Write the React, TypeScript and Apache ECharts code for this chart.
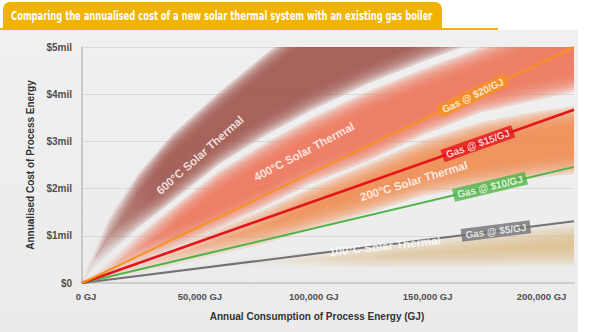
import React, { useEffect, useRef } from "react";
import * as echarts from "echarts";

const titleText =
  "Comparing the annualised cost of a new solar thermal system with an existing gas boiler";

// axes
const xTickLabels = ["0 GJ", "50,000 GJ", "100,000 GJ", "150,000 GJ", "200,000 GJ"];
const yTickLabels = ["$0", "$1mil", "$2mil", "$3mil", "$4mil", "$5mil"];
const xMax = 216000;
const xInterval = 50000;

// gas lines: [GJ, $mil] end points
const gasNames = ["Gas @ $5/GJ", "Gas @ $10/GJ", "Gas @ $15/GJ", "Gas @ $20/GJ"];
const gasEndValues = [1.31, 2.46, 3.67, 5.0];
const gasColors = ["#727276", "#4fb447", "#e5141b", "#f6931f"];
const gasWidths = [2, 2, 2.6, 2];
const gasLabelX = [181700, 179100, 173800, 171600];
const gasLabelY = [1.1, 2.04, 2.95, 3.97];
const gasLabelRotate = [7.2, 13.3, 19.4, 25.6];

// solar thermal bands (upper / lower edges, $mil) at bandXs (GJ)
const bandXs = [0, 5000, 12000, 25000, 40000, 60000, 80000, 100000, 125000, 150000, 175000, 200000, 216000];
const solar600Upper = [0, 0.55, 1.3, 2.25, 3.08, 3.95, 4.75, 5.5, 6.0, 6.3, 6.6, 6.9, 7.2];
const solar600Lower = [0, 0.38, 0.71, 1.26, 1.83, 2.59, 3.19, 3.72, 4.29, 4.78, 5.22, 5.69, 6.05];
const solar400Upper = [0, 0.1, 0.39, 0.95, 1.52, 2.28, 2.87, 3.4, 3.97, 4.46, 4.91, 5.37, 5.73];
const solar400Lower = [0, 0.08, 0.23, 0.51, 0.83, 1.25, 1.69, 2.18, 2.65, 3.22, 3.69, 3.96, 4.13];
const solar200Upper = [0, 0.08, 0.21, 0.44, 0.72, 1.1, 1.48, 1.93, 2.44, 2.95, 3.33, 3.56, 3.67];
const solar200Lower = [0, 0.04, 0.13, 0.28, 0.45, 0.68, 0.91, 1.21, 1.55, 1.93, 2.14, 2.31, 2.39];
const tanXs = [60000, 80000, 100000, 125000, 150000, 175000, 200000, 216000];
const solar100Upper = [0.44, 0.51, 0.57, 0.7, 0.83, 0.97, 1.1, 1.19];
const solar100Lower = [0.44, 0.42, 0.42, 0.4, 0.42, 0.42, 0.44, 0.44];

const bandNames = ["600°C Solar Thermal", "400°C Solar Thermal", "200°C Solar Thermal", "100°C Solar Thermal"];
const bandLabelX = [51800, 97500, 145700, 133000];
const bandLabelY = [2.71, 2.78, 2.16, 0.78];
const bandLabelRotate = [41.5, 28, 17, 6];

const feathers = [0.08, 0.03, -0.02, -0.07, -0.12, -0.17, -0.22, -0.27, -0.32];

function bandSeries(
  name: string,
  xs: number[],
  upper: number[],
  lower: number[],
  rgb: string,
  alpha: number,
  fadeEnd: number
) {
  return {
    type: "custom",
    name,
    clip: true,
    silent: true,
    z: 1,
    data: feathers.map(() => [0, 0]),
    renderItem: (params: any, api: any) => {
      const d = feathers[params.dataIndex];
      const up: number[][] = [];
      const lo: number[][] = [];
      xs.forEach((x, j) => {
        let u = upper[j] + d;
        let l = lower[j] - d;
        if (u < l) {
          const m = (upper[j] + lower[j]) / 2;
          u = m;
          l = m;
        }
        up.push(api.coord([x, u]));
        lo.push(api.coord([x, l]));
      });
      return {
        type: "polygon",
        shape: { points: up.concat(lo.reverse()) },
        style: {
          fill: {
            type: "linear",
            x: 0,
            y: 0,
            x2: 1,
            y2: 0,
            colorStops: [
              { offset: 0, color: `rgba(${rgb},${alpha * 0.1})` },
              { offset: fadeEnd, color: `rgba(${rgb},${alpha})` },
              { offset: 1, color: `rgba(${rgb},${alpha})` },
            ],
          },
        },
      };
    },
  };
}

export default function App() {
  const ref = useRef<HTMLDivElement>(null);
  useEffect(() => {
    if (!ref.current) return;
    const chart = echarts.init(ref.current, undefined, { renderer: "svg" });
    const gasSeries = gasNames.map((n, i) => ({
      type: "line",
      name: n,
      data: [
        [0, 0],
        [xMax, gasEndValues[i]],
      ],
      showSymbol: false,
      silent: true,
      z: 3,
      lineStyle: { color: gasColors[i], width: gasWidths[i] },
    }));
    const labelFont = "'Liberation Sans', Arial, sans-serif";
    const labelSeries = {
      type: "scatter",
      z: 5,
      silent: true,
      symbolSize: 1,
      itemStyle: { color: "rgba(0,0,0,0)" },
      data: [
        ...gasNames.map((n, i) => ({
          value: [gasLabelX[i], gasLabelY[i]],
          label: {
            show: true,
            position: "inside",
            formatter: n,
            rotate: gasLabelRotate[i],
            color: "#fff",
            fontSize: 10,
            fontWeight: "bold",
            fontFamily: labelFont,
            backgroundColor: gasColors[i],
            padding: [2, 4, 1, 4],
          },
        })),
        ...bandNames.map((n, i) => ({
          value: [bandLabelX[i], bandLabelY[i]],
          label: {
            show: true,
            position: "inside",
            formatter: n,
            rotate: bandLabelRotate[i],
            color: "#fff",
            fontSize: 11.5,
            fontWeight: "bold",
            fontFamily: labelFont,
          },
        })),
      ],
    };
    chart.setOption({
      animation: false,
      backgroundColor: "#ffffff",
      graphic: [
        {
          type: "rect",
          z: -100,
          silent: true,
          shape: { x: 0, y: 30, width: 578, height: 302 },
          style: {
            fill: new echarts.graphic.LinearGradient(0, 0, 0, 1, [
              { offset: 0, color: "#f0f0f0" },
              { offset: 1, color: "#ebebeb" },
            ]),
          },
        },
        {
          type: "rect",
          z: -90,
          silent: true,
          shape: { x: 0, y: 28, width: 498, height: 2 },
          style: { fill: "#f0b400" },
        },
        {
          type: "rect",
          z: -80,
          silent: true,
          shape: { x: 3, y: 2, width: 439, height: 27, r: [7, 7, 0, 0] },
          style: { fill: "#f0b400" },
        },
        {
          type: "text",
          z: 10,
          silent: true,
          x: 11,
          y: 16,
          scaleX: 0.745,
          style: {
            text: titleText,
            fill: "#ffffff",
            font: "bold 12.5px 'Liberation Sans Narrow', 'DejaVu Sans Condensed', sans-serif",
            verticalAlign: "middle",
            align: "left",
          },
        },
      ],
      grid: { left: 82, right: 16, top: 47, bottom: 49 },
      xAxis: {
        type: "value",
        min: 0,
        max: xMax,
        interval: xInterval,
        name: "Annual Consumption of Process Energy (GJ)",
        nameLocation: "middle",
        nameGap: 28,
        nameTextStyle: {
          color: "#333",
          fontSize: 10,
          fontWeight: "bold",
          fontFamily: labelFont,
          padding: [0, 22, 0, 0],
        },
        axisLine: { show: true, lineStyle: { color: "#cdcdcd", width: 2 } },
        axisTick: { show: false },
        splitLine: { show: false },
        axisLabel: {
          showMaxLabel: false,
          margin: 8,
          color: "#505050",
          fontSize: 9.5,
          fontWeight: "bold",
          fontFamily: labelFont,
          padding: [0, 0, 0, 8],
          formatter: (v: number) => xTickLabels[Math.round(v / xInterval)] ?? "",
        },
      },
      yAxis: {
        type: "value",
        min: 0,
        max: 5,
        interval: 1,
        name: "Annualised Cost of Process Energy",
        nameLocation: "middle",
        nameGap: 46,
        nameTextStyle: {
          color: "#333",
          fontSize: 10,
          fontWeight: "bold",
          fontFamily: labelFont,
        },
        axisLine: { show: true, lineStyle: { color: "#bdbdbd", width: 1.5 } },
        axisTick: { show: false },
        splitLine: { show: true, lineStyle: { color: "#d9d9d9", width: 1 } },
        axisLabel: {
          margin: 10,
          color: "#505050",
          fontSize: 10,
          fontWeight: "bold",
          fontFamily: labelFont,
          formatter: (v: number) => yTickLabels[Math.round(v)] ?? "",
        },
      },
      series: [
        bandSeries("600", bandXs, solar600Upper, solar600Lower, "160,86,78", 0.24, 0.16),
        bandSeries("400", bandXs, solar400Upper, solar400Lower, "236,116,88", 0.23, 0.2),
        bandSeries("200", bandXs, solar200Upper, solar200Lower, "240,138,78", 0.22, 0.45),
        bandSeries("100", tanXs, solar100Upper, solar100Lower, "216,181,122", 0.14, 0.5),
        ...gasSeries,
        labelSeries,
      ],
    });
    return () => chart.dispose();
  }, []);
  return (
    <div
      ref={ref}
      style={{ position: "absolute", left: 0, top: 0, width: 590, height: 332 }}
    />
  );
}
